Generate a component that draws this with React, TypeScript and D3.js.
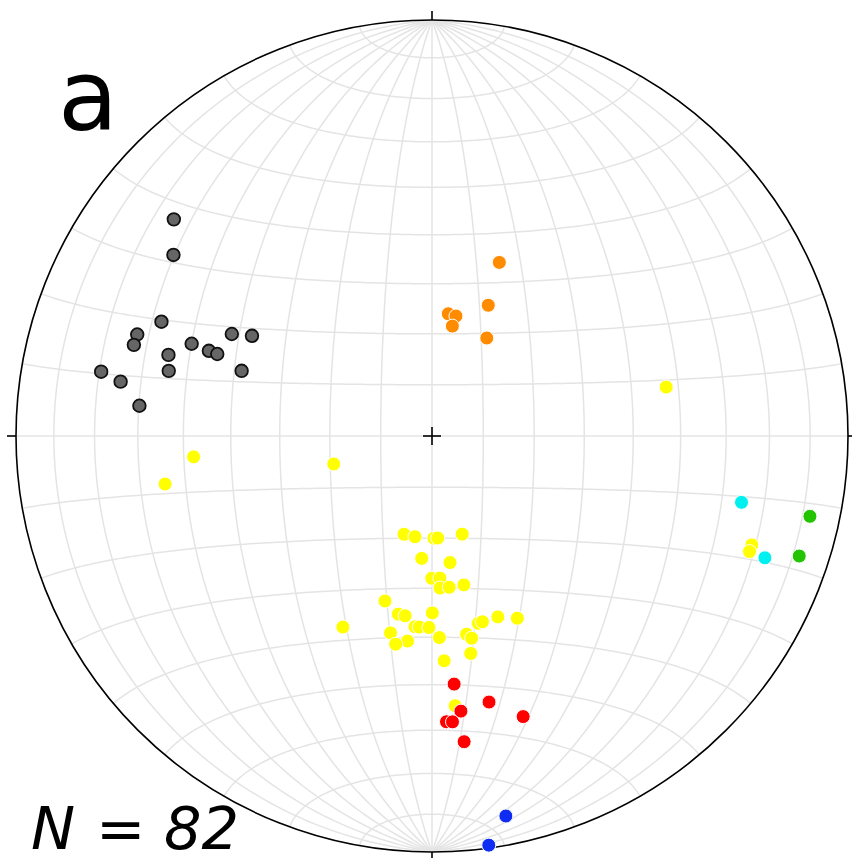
import React from "react";
import * as d3 from "d3";

// Lines as [trend, plunge] in degrees (lower hemisphere)
const grayData: [number, number][] = [
  [310.0, 20.1], [305.0, 25.1], [292.9, 30.1], [289.0, 26.0], [287.0, 26.0],
  [287.1, 34.1], [291.0, 38.1], [290.9, 42.1], [290.9, 44.0], [297.0, 45.1],
  [299.1, 49.0], [281.0, 20.1], [279.9, 25.0], [283.9, 35.1], [288.9, 50.0],
  [275.9, 30.0],
];
const orangeData: [number, number][] = [
  [21.2, 53.1], [23.3, 62.0], [7.6, 65.8], [11.3, 66.0], [10.5, 68.1], [29.2, 68.0],
];
const yellowData: [number, number][] = [
  [78.2, 42.0], [265.0, 42.0], [259.8, 35.1], [254.1, 70.0], [108.8, 19.9],
  [110.0, 19.9], [205.0, 48.0], [175.1, 35.2],
  [195.9, 70.0], [189.6, 70.0], [178.9, 70.0], [176.8, 70.0], [162.9, 69.9],
  [184.8, 65.9], [171.9, 64.9], [180.1, 62.0], [176.8, 62.0], [177.0, 60.0],
  [173.5, 60.0], [167.9, 60.0], [195.9, 56.1], [190.7, 54.1], [188.5, 54.0],
  [179.9, 55.0], [185.1, 52.0], [183.8, 52.0], [180.9, 52.0], [191.9, 50.0],
  [186.8, 48.9], [189.9, 47.9], [177.9, 49.9], [166.1, 51.7], [164.8, 51.8],
  [160.0, 51.8], [154.9, 50.0], [170.1, 50.0], [168.9, 49.0], [169.9, 45.9],
  [176.9, 45.0],
];
const redData: [number, number][] = [
  [174.9, 39.9], [167.9, 34.9], [162.0, 29.8], [174.0, 33.9], [177.1, 31.8],
  [175.9, 31.7], [174.0, 27.0],
];
const blueData: [number, number][] = [[169.0, 7.7], [172.1, 0.8]];
const cyanData: [number, number][] = [[102.1, 24.9], [110.1, 15.9]];
const greenData: [number, number][] = [[102.0, 7.9], [108.1, 7.9]];

const panelLabel = "a";
const countParts = ["N", "=", "82"];

const W = 852;
const H = 858;
const CX = 432;
const CY = 436;
const R = 416;

const rad = Math.PI / 180;
function lineToLonLat(trend: number, plunge: number): [number, number] {
  const d = (90 - plunge) * rad;
  const t = trend * rad;
  const lat = Math.asin(Math.sin(d) * Math.cos(t));
  const lon = Math.atan2(Math.sin(t) * Math.sin(d), Math.cos(d));
  return [lon / rad, lat / rad];
}

export default function App() {
  const projection = d3
    .geoAzimuthalEqualArea()
    .rotate([0, 0])
    .clipAngle(90)
    .scale(R / Math.SQRT2)
    .translate([CX, CY])
    .precision(0.1);
  const path = d3.geoPath(projection);

  const meridians: any[] = [];
  for (let lon = -80; lon <= 80; lon += 10) {
    meridians.push({
      type: "LineString",
      coordinates: d3.range(-90, 90.01, 1).map((lat) => [lon, lat]),
    });
  }
  const parallels: any[] = [];
  for (let lat = -80; lat <= 80; lat += 10) {
    parallels.push({
      type: "LineString",
      coordinates: d3.range(-90, 90.01, 1).map((lon) => [lon, lat]),
    });
  }

  const ticks = [0, 90, 180, 270].map((tr) => {
    const p0 = projection(lineToLonLat(tr, 0)) as [number, number];
    const dx = (p0[0] - CX) / R;
    const dy = (p0[1] - CY) / R;
    return { x1: p0[0], y1: p0[1], x2: p0[0] + dx * 9, y2: p0[1] + dy * 9 };
  });

  const groups: { data: [number, number][]; fill: string; stroke: string; sw: number; r: number }[] = [
    { data: grayData, fill: "#666666", stroke: "#111", sw: 1.8, r: 6.3 },
    { data: orangeData, fill: "#ff8c00", stroke: "#fff", sw: 1, r: 7 },
    { data: yellowData, fill: "#ffff00", stroke: "#fff", sw: 1, r: 7 },
    { data: redData, fill: "#ff0000", stroke: "#fff", sw: 1, r: 7 },
    { data: blueData, fill: "#0f2cf2", stroke: "#fff", sw: 1, r: 7 },
    { data: cyanData, fill: "#00f0f0", stroke: "#fff", sw: 1, r: 7 },
    { data: greenData, fill: "#22c400", stroke: "#fff", sw: 1, r: 7 },
  ];

  return (
    <svg
      width={W}
      height={H}
      style={{ position: "absolute", left: 0, top: 0, background: "#fff" }}
    >
      <g fill="none" stroke="#e4e4e4" strokeWidth={1.5}>
        {meridians.map((m, i) => (
          <path key={"m" + i} d={path(m) || ""} />
        ))}
        {parallels.map((p, i) => (
          <path key={"p" + i} d={path(p) || ""} />
        ))}
      </g>
      <circle cx={CX} cy={CY} r={R} fill="none" stroke="#000" strokeWidth={1.6} />
      {ticks.map((t, i) => (
        <line key={"t" + i} x1={t.x1} y1={t.y1} x2={t.x2} y2={t.y2} stroke="#000" strokeWidth={1.6} />
      ))}
      <line x1={CX - 9} y1={CY} x2={CX + 9} y2={CY} stroke="#000" strokeWidth={1.6} />
      <line x1={CX} y1={CY - 9} x2={CX} y2={CY + 9} stroke="#000" strokeWidth={1.6} />
      {groups.map((g, gi) => (
        <g key={"g" + gi}>
          {g.data.map((d, i) => {
            const p = projection(lineToLonLat(d[0], d[1])) as [number, number];
            return (
              <circle key={i} cx={p[0]} cy={p[1]} r={g.r} fill={g.fill} stroke={g.stroke} strokeWidth={g.sw} />
            );
          })}
        </g>
      ))}
      <text x={58} y={130} fontFamily="DejaVu Sans" fontSize={98} fill="#000">
        {panelLabel}
      </text>
      <text y={849} fontFamily="DejaVu Sans" fontStyle="italic" fontSize={59} fill="#000">
        <tspan x={31}>{countParts[0]}</tspan>
        <tspan x={96}>{countParts[1]}</tspan>
        <tspan x={164}>{countParts[2]}</tspan>
      </text>
    </svg>
  );
}
